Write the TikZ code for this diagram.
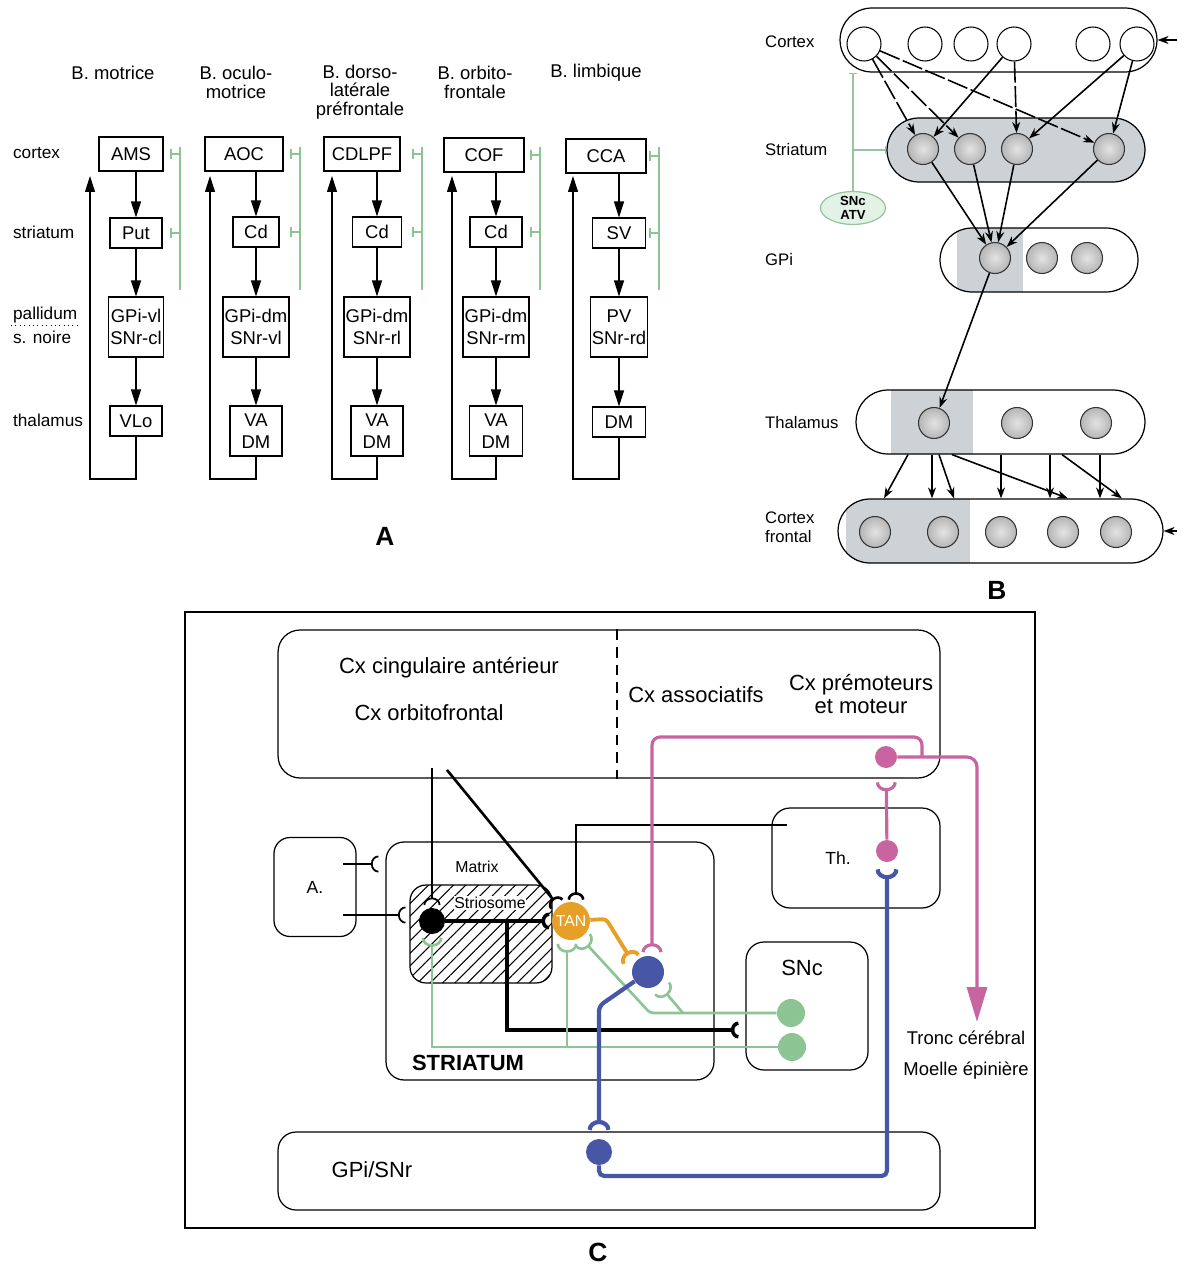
\documentclass[tikz,border=0pt]{standalone}
\usepackage{fontspec}
\setmainfont{Liberation Sans}
\usetikzlibrary{arrows.meta, positioning, shapes.geometric, patterns.meta}

\definecolor{gfeed}{RGB}{140,196,148}
\definecolor{gsoft}{RGB}{150,196,160}
\definecolor{sncfill}{RGB}{226,242,230}
\definecolor{grayB}{RGB}{205,210,214}
\definecolor{pinkax}{RGB}{200,100,160}
\definecolor{blueax}{RGB}{72,86,166}
\definecolor{tanorg}{RGB}{230,160,40}

\begin{document}
\begin{tikzpicture}[x=0.02cm, y=-0.02cm,
        fA/.style={font=\fontsize{10.5}{12.5}\selectfont},
        rowA/.style={font=\fontsize{9.8}{11}\selectfont, anchor=west, inner sep=1pt},
        hdA/.style={font=\fontsize{10.5}{10.5}\selectfont, align=center},
        boxA/.style={draw, line width=0.6pt, minimum width=1.04cm, minimum height=0.6cm, inner sep=1pt, align=center, fA},
        arrA/.style={-{Triangle[length=0.32cm, width=0.2cm]}, line width=0.6pt},
        inhA/.style={draw=gfeed, line width=0.9pt},
        barA/.style={inhA, -{Bar[width=0.2cm]}},
        fB/.style={font=\fontsize{9.5}{10.8}\selectfont, align=left},
        pill/.style={draw, line width=0.7pt, rounded corners=0.64cm, minimum height=1.28cm},
        cellW/.style={circle, draw, line width=0.6pt, fill=white, minimum size=0.68cm, inner sep=0pt},
        cellG/.style={circle, draw=black!80, line width=0.6pt, inner color=gray!22, outer color=gray!58, minimum size=0.62cm, inner sep=0pt},
        arrB/.style={-{Stealth[length=0.22cm, width=0.16cm]}, line width=0.9pt},
        broken/.style={dash pattern=on 12pt off 2pt},
        inhB/.style={draw=gsoft, line width=0.7pt, -{Bar[width=0.16cm]}},
        fC/.style={font=\fontsize{12.5}{13.6}\selectfont, align=center},
        fCs/.style={font=\fontsize{9}{10}\selectfont},
        regC/.style={draw, line width=0.7pt, rounded corners=0.36cm},
        cellC/.style={circle, minimum size=#1, inner sep=0pt},
        cupK/.style={-{Arc Barb[reversed, length=0.15cm, width=0.34cm]}, line width=1.5pt, shorten >=1.5pt},
        cupG/.style={draw=gfeed, -{Arc Barb[reversed, length=0.18cm, width=0.42cm]}, line width=1.5pt, shorten >=2pt},
        cupO/.style={draw=tanorg, -{Arc Barb[reversed, length=0.18cm, width=0.42cm]}, line width=2.2pt, shorten >=3pt},
        cupP/.style={draw=pinkax, -{Arc Barb[reversed, length=0.18cm, width=0.42cm]}, line width=1.8pt, shorten >=2pt},
        cupB/.style={draw=blueax, -{Arc Barb[reversed, length=0.2cm, width=0.46cm]}, line width=2.4pt, shorten >=3pt},
        arrP/.style={draw=pinkax, line width=1.8pt, -{Triangle[length=0.7cm, width=0.4cm]}},
        lblP/.style={font=\fontsize{15}{15}\selectfont\bfseries}
    ]

    \useasboundingbox (0,0) rectangle (1177,1264);

    % ================= A =================
    % Column titles
    \node[hdA] (hd1) at (113,73) {B. motrice};
    \node[hdA] (hd2) at (236,82.5) {B. oculo-\\motrice};
    \node[hdA] (hd3) at (360,92) {B. dorso-\\latérale\\préfrontale};
    \node[hdA] (hd4) at (475,82.5) {B. orbito-\\frontale};
    \node[hdA] (hd5) at (596,73) {B. limbique};

    % Row labels
    \node[rowA] (rcx) at (11,153) {cortex};
    \node[rowA] (rst) at (11,232) {striatum};
    \node[rowA] (rpal) at (11,315) {pallidum};
    \node[rowA] (rsn) at (11,337) {s. noire};
    \node[rowA] (rth) at (11,420) {thalamus};
    \draw[dotted, line width=0.5pt] (rpal.south west) -- (rpal.south east);

    % Motor loop
    \node[boxA, minimum width=1.28cm, minimum height=0.68cm] (ams) at (131,154) {AMS};
    \node[boxA] (put) at (136,233) {Put};
    \node[boxA, minimum height=1.2cm] (gpvl) at (136,327) {GPi-vl\\SNr-cl};
    \node[boxA] (vlo) at (136,421) {VLo};
    \draw[arrA] (ams.south -| put) -- (put);
    \draw[arrA] (put) -- (gpvl);
    \draw[arrA] (gpvl) -- (vlo);
    \coordinate (fb1) at (90,176);
    \draw[arrA] (vlo.south) -- (vlo.south |- 0,479) -| (fb1);
    \draw[inhA] (180,147) -- (180,290);
    \draw[barA] (180,0 |- ams.east) -- ++(-10,0);
    \draw[barA] (180,0 |- put.east) -- ++(-10,0);

    % Oculomotor loop
    \node[boxA, minimum width=1.56cm, minimum height=0.68cm] (aoc) at (244,154) {AOC};
    \node[boxA, minimum width=0.92cm] (cd2) at (256,232) {Cd};
    \node[boxA, minimum width=1.32cm, minimum height=1.2cm] (gpdm2) at (256,327) {GPi-dm\\SNr-vl};
    \node[boxA, minimum height=1.0cm] (vadm2) at (256,431) {VA\\DM};
    \draw[arrA] (aoc.south -| cd2) -- (cd2);
    \draw[arrA] (cd2) -- (gpdm2);
    \draw[arrA] (gpdm2) -- (vadm2);
    \coordinate (fb2) at (210,176);
    \draw[arrA] (vadm2.south) -- (vadm2.south |- 0,479) -| (fb2);
    \draw[inhA] (300,147) -- (300,290);
    \draw[barA] (300,0 |- aoc.east) -- ++(-10,0);
    \draw[barA] (300,0 |- cd2.east) -- ++(-10,0);

    % Dorsolateral prefrontal loop
    \node[boxA, minimum width=1.52cm, minimum height=0.68cm] (cdlpf) at (362,154) {CDLPF};
    \node[boxA, minimum width=0.98cm] (cd3) at (377,232) {Cd};
    \node[boxA, minimum width=1.32cm, minimum height=1.2cm] (gpdm3) at (377,327) {GPi-dm\\SNr-rl};
    \node[boxA, minimum height=1.0cm] (vadm3) at (377,431) {VA\\DM};
    \draw[arrA] (cdlpf.south -| cd3) -- (cd3);
    \draw[arrA] (cd3) -- (gpdm3);
    \draw[arrA] (gpdm3) -- (vadm3);
    \coordinate (fb3) at (332,176);
    \draw[arrA] (vadm3.south) -- (vadm3.south |- 0,479) -| (fb3);
    \draw[inhA] (422,147) -- (422,290);
    \draw[barA] (422,0 |- cdlpf.east) -- ++(-10,0);
    \draw[barA] (422,0 |- cd3.east) -- ++(-10,0);

    % Orbitofrontal loop
    \node[boxA, minimum width=1.6cm, minimum height=0.68cm] (cof) at (484,155) {COF};
    \node[boxA] (cd4) at (496,232) {Cd};
    \node[boxA, minimum width=1.32cm, minimum height=1.2cm] (gpdm4) at (496,327) {GPi-dm\\SNr-rm};
    \node[boxA, minimum width=1.06cm, minimum height=1.0cm] (vadm4) at (496,431) {VA\\DM};
    \draw[arrA] (cof.south -| cd4) -- (cd4);
    \draw[arrA] (cd4) -- (gpdm4);
    \draw[arrA] (gpdm4) -- (vadm4);
    \coordinate (fb4) at (452,176);
    \draw[arrA] (vadm4.south) -- (vadm4.south |- 0,479) -| (fb4);
    \draw[inhA] (540,147) -- (540,290);
    \draw[barA] (540,0 |- cof.east) -- ++(-10,0);
    \draw[barA] (540,0 |- cd4.east) -- ++(-10,0);

    % Limbic loop
    \node[boxA, minimum width=1.6cm, minimum height=0.68cm] (cca) at (606,156) {CCA};
    \node[boxA, minimum width=1.06cm] (sv) at (619,233) {SV};
    \node[boxA, minimum width=1.06cm, minimum height=1.2cm] (pv) at (619,327) {PV\\SNr-rd};
    \node[boxA, minimum width=1.06cm] (dm5) at (619,422) {DM};
    \draw[arrA] (cca.south -| sv) -- (sv);
    \draw[arrA] (sv) -- (pv);
    \draw[arrA] (pv) -- (dm5);
    \coordinate (fb5) at (573,176);
    \draw[arrA] (dm5.south) -- (dm5.south |- 0,479) -| (fb5);
    \draw[inhA] (659,147) -- (659,290);
    \draw[barA] (659,0 |- cca.east) -- ++(-10,0);
    \draw[barA] (659,0 |- sv.east) -- ++(-10,0);

    \node[lblP] (lblA) at (385,536) {A};

    % ================= B =================
    % Cortex
    \node[pill, minimum width=6.34cm] (cx) at (998.5,40) {};
    \node[cellW] (c1) at (864,44) {};
    \node[cellW] (c2) at (925,44) {};
    \node[cellW] (c3) at (971,44) {};
    \node[cellW] (c4) at (1014,44) {};
    \node[cellW] (c5) at (1093,44) {};
    \node[cellW] (c6) at (1137,44) {};

    % Striatum
    \node[pill, fill=grayB, minimum width=5.16cm] (str) at (1016,150) {};
    \node[cellG] (s1) at (923,149) {};
    \node[cellG] (s2) at (970,149) {};
    \node[cellG] (s3) at (1017,149) {};
    \node[cellG] (s4) at (1109,149) {};

    % GPi
    \node[pill, minimum width=3.96cm, path picture={\fill[grayB, sharp corners] ([xshift=0.34cm]path picture bounding box.south west) rectangle ([xshift=1.66cm]path picture bounding box.north west);}] (gpi) at (1039,260) {};
    \node[cellG] (g1) at (995,258) {};
    \node[cellG] (g2) at (1042,258) {};
    \node[cellG] (g3) at (1087,258) {};

    % Thalamus
    \node[pill, minimum width=5.78cm, path picture={\fill[grayB, sharp corners] ([xshift=0.7cm]path picture bounding box.south west) rectangle ([xshift=2.34cm]path picture bounding box.north west);}] (thal) at (1000.5,422) {};
    \node[cellG] (t1) at (934,423) {};
    \node[cellG] (t2) at (1017,423) {};
    \node[cellG] (t3) at (1096,423) {};

    % Cortex frontal
    \node[pill, minimum width=6.5cm, path picture={\fill[grayB, sharp corners] ([xshift=0.16cm]path picture bounding box.south west) rectangle ([xshift=2.64cm]path picture bounding box.north west);}] (cxf) at (1000.5,531) {};
    \node[cellG] (f1) at (875,532) {};
    \node[cellG] (f2) at (943,532) {};
    \node[cellG] (f3) at (1001,532) {};
    \node[cellG] (f4) at (1063,532) {};
    \node[cellG] (f5) at (1116,532) {};

    % Labels on left
    \node[fB, anchor=west] (lcx) at (759,42) {Cortex};
    \node[fB, anchor=west] (lstr) at (759,150) {Striatum};
    \node[fB, anchor=west] (lgpi) at (759,260) {GPi};
    \node[fB, anchor=west] (lthal) at (759,423) {Thalamus};
    \node[fB, anchor=west] (lcxf) at (759,527) {Cortex\\frontal};

    % SNc / ATV
    \node[ellipse, draw=gsoft, line width=0.7pt, fill=sncfill, minimum width=1.3cm, minimum height=0.62cm, inner sep=0pt, align=center, font=\fontsize{7.5}{8}\selectfont\bfseries] (snc) at (853,208) {SNc\\ATV};
    \draw[inhB] (snc.north) -- (snc.north |- cx.south);
    \draw[inhB] (snc.north |- str.west) -- (str.west);

    % Cortex -> striatum
    \draw[arrB, broken] (c1) -- (s1);
    \draw[arrB, broken] (c1) -- (s2);
    \draw[arrB, broken] (c1) -- (s4);
    \draw[arrB] (c4) -- (s1);
    \draw[arrB, broken] (c4) -- (s3);
    \draw[arrB] (c6) -- (s3);
    \draw[arrB] (c6) -- (s4);

    % Striatum -> GPi -> thalamus
    \draw[arrB] (s1) -- (g1);
    \draw[arrB] (s2) -- (g1);
    \draw[arrB] (s3) -- (g1);
    \draw[arrB] (s4) -- (g1);
    \draw[arrB] (g1) -- (t1);

    % Thalamus -> cortex frontal
    \draw[arrB] (908,0 |- thal.south) -- (884,0 |- cxf.north);
    \draw[arrB] (932,0 |- thal.south) -- (932,0 |- cxf.north);
    \draw[arrB] (939,0 |- thal.south) -- (954,0 |- cxf.north);
    \draw[arrB] (952,0 |- thal.south) -- (1068,0 |- cxf.north);
    \draw[arrB] (1001,0 |- thal.south) -- (1001,0 |- cxf.north);
    \draw[arrB] (1050,0 |- thal.south) -- (1050,0 |- cxf.north);
    \draw[arrB] (1062,0 |- thal.south) -- (1122,0 |- cxf.north);
    \draw[arrB] (1100,0 |- thal.south) -- (1100,0 |- cxf.north);

    % Inputs from the right
    \coordinate (inTop) at (1177,40);
    \coordinate (inBot) at (1177,531);
    \draw[arrB] (inTop) -- (cx.east);
    \draw[arrB] (inBot) -- (cxf.east);

    \node[lblP] (lblB) at (997,590) {B};

    % ================= C =================
    \node[draw, line width=0.7pt, minimum width=17cm, minimum height=12.32cm] (frameC) at (610,920) {};

    % Cortex
    \node[regC, rounded corners=0.44cm, minimum width=13.24cm, minimum height=2.96cm] (cxC) at (609,704) {};
    \draw[dash pattern=on 6pt off 4pt, line width=1.4pt] (617,0 |- cxC.north) -- (617,0 |- cxC.south);
    \node[fC] (tcing) at (449,668) {Cx cingulaire antérieur};
    \node[fC] (torb) at (429,713) {Cx orbitofrontal};
    \node[fC] (tass) at (696,695) {Cx associatifs};
    \node[fC] (tprem) at (861,694) {Cx prémoteurs\\et moteur};

    % Structures
    \node[regC, rounded corners=0.32cm, minimum width=1.64cm, minimum height=1.98cm, font=\fontsize{10}{12}\selectfont] (aC) at (315,887) {A.};
    \node[regC, minimum width=6.56cm, minimum height=4.76cm] (stC) at (550,961) {};
    \node[fCs] (tmat) at (477,867) {Matrix};
    \node[font=\fontsize{12.5}{14}\selectfont\bfseries] (tstr) at (468,1063) {STRIATUM};
    \node[draw, line width=0.7pt, rounded corners=0.32cm, minimum width=2.84cm, minimum height=1.96cm, pattern={Lines[angle=45, distance=5pt, line width=0.6pt]}] (sosome) at (481,934) {};
    \node[fCs, fill=white, inner sep=0.5pt] (tsos) at (490,903) {Striosome};
    \node[regC, minimum width=3.36cm, minimum height=2cm] (thC) at (856,858) {};
    \node[font=\fontsize{10}{12}\selectfont] (tth) at (838,858) {Th.};
    \node[regC, minimum width=2.44cm, minimum height=2.56cm] (sncC) at (807,1006) {};
    \node[fC] (tsnc) at (802,968) {SNc};
    \node[regC, minimum width=13.24cm, minimum height=1.56cm] (gpC) at (609,1171) {};
    \node[fC] (tgp) at (372,1170) {GPi/SNr};
    \node[font=\fontsize{10.5}{12}\selectfont] (ttronc) at (966,1038) {Tronc cérébral};
    \node[font=\fontsize{10.5}{12}\selectfont] (tmoel) at (966,1071) {Moelle épinière};

    % Neurons
    \node[cellC=0.52cm, fill=black] (blk) at (432,921) {};
    \node[cellC=0.76cm, fill=tanorg, text=white, font=\fontsize{9}{10}\selectfont] (tan) at (571,921) {TAN};
    \node[cellC=0.64cm, fill=blueax] (msn) at (648,972) {};
    \node[cellC=0.44cm, fill=pinkax] (pcx) at (886,757) {};
    \node[cellC=0.44cm, fill=pinkax] (pth) at (887,851) {};
    \node[cellC=0.52cm, fill=blueax] (gpn) at (599,1152) {};
    \node[cellC=0.56cm, fill=gfeed] (sn1) at (791,1013) {};
    \node[cellC=0.56cm, fill=gfeed] (sn2) at (792,1047) {};

    % A. -> striatum
    \coordinate (a1) at (343,864);
    \coordinate (a2) at (343,915);
    \draw[cupK, line width=1pt, shorten >=4pt] (a1) -- (stC.west |- a1);
    \draw[cupK, line width=1pt, shorten >=2.3pt] (a2) -- (sosome.west |- a2);

    % Cortex, thalamus, striosome -> TAN / SNc (black)
    \coordinate (k1) at (432,768);
    \coordinate (k2) at (447,770);
    \coordinate (k3) at (787,825);
    \coordinate (k5) at (507,921);
    \draw[cupK, line width=1pt] (k1) -- (blk);
    \draw[cupK] (k2) -- (tan.130);
    \draw[cupK] (k3) -| (tan.75);
    \draw[cupK, line width=2pt] (blk) -- (tan);
    \draw[cupK, line width=2pt, shorten >=4pt] (k5) |- (sncC.west |- 0,1030);

    % SNc -> striatum (green)
    \coordinate (g1) at (650,1013);
    \coordinate (g2) at (683,1013);
    \coordinate (g3) at (567,1047);
    \draw[cupG, rounded corners=2pt] (sn1) -- (g1) -- (tan.300);
    \draw[cupG, shorten >=3pt] (g2) -- (msn);
    \draw[cupG] (sn2) -| (blk);
    \draw[cupG] (g3) -- (g3 |- tan.south);

    % TAN -> MSN (orange)
    \coordinate (o1) at (606,919);
    \draw[cupO, rounded corners=2pt] (tan) -- (o1) -- (msn.150);

    % Cortex and thalamus (pink)
    \coordinate (p1) at (922,757);
    \coordinate (p2) at (922,737);
    \coordinate (p3) at (652,737);
    \coordinate (p4) at (977,757);
    \coordinate (tronc) at (977,1022);
    \draw[arrP, rounded corners=0.2cm] (pcx) -- (p4) -- (tronc);
    \draw[cupP, rounded corners=0.16cm] (p1) -- (p2) -- (p3) -- (p3 |- msn.north);
    \draw[cupP, shorten >=0.28cm] (pth) -- (pcx);

    % MSN -> GPi/SNr -> Th (blue)
    \coordinate (b1) at (599,1006);
    \coordinate (b2) at (887,1176);
    \draw[cupB, rounded corners=3pt, shorten >=5pt] (msn) -- (b1) -- (gpn);
    \draw[cupB, rounded corners=3pt, shorten >=4pt] (gpn) |- (b2) -- (pth);

    \node[lblP] (lblC) at (598,1252) {C};

\end{tikzpicture}
\end{document}
